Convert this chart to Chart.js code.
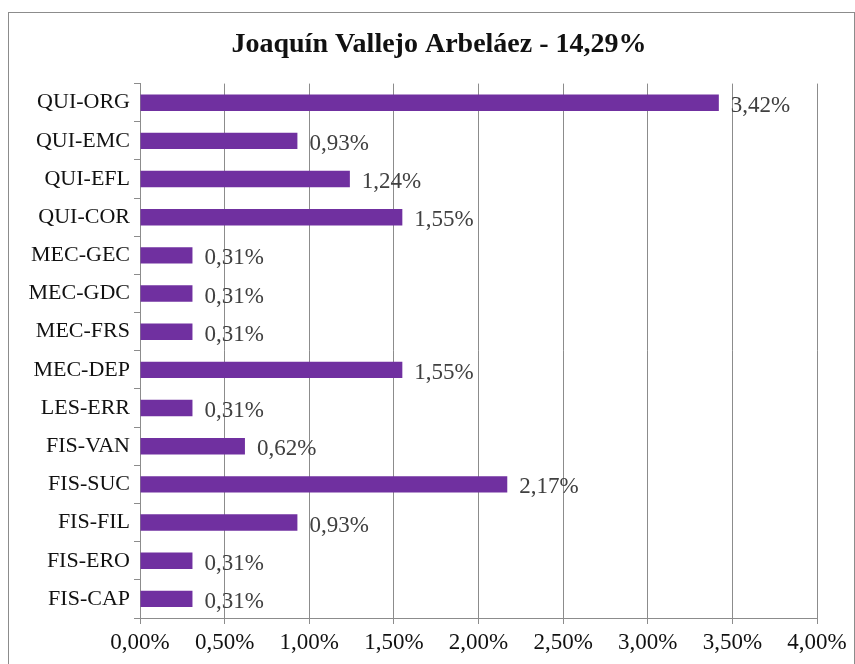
<!DOCTYPE html>
<html>
<head>
<meta charset="utf-8">
<script src="https://cdn.jsdelivr.net/npm/chart.js@4"></script>
<style>
  body { margin: 0; background: #fff; }
  #frame { position: absolute; left: 8px; top: 12px; width: 845px; height: 660px; border: 1px solid #8c8c8c; }
  canvas { position: absolute; left: 0; top: 0; }
</style>
</head>
<body>
<div id="frame"></div>
<canvas id="chart" width="855" height="664"></canvas>
<script>
// Joaquín Vallejo Arbeláez — share per course

const chartTitle = 'Joaquín Vallejo Arbeláez - 14,29%';
const categories = ['QUI-ORG', 'QUI-EMC', 'QUI-EFL', 'QUI-COR', 'MEC-GEC', 'MEC-GDC', 'MEC-FRS',
    'MEC-DEP', 'LES-ERR', 'FIS-VAN', 'FIS-SUC', 'FIS-FIL', 'FIS-ERO', 'FIS-CAP'];
const values = [3.42, 0.93, 1.24, 1.55, 0.31, 0.31, 0.31, 1.55, 0.31, 0.62, 2.17, 0.93, 0.31, 0.31];
const xTicks = [0, 0.5, 1, 1.5, 2, 2.5, 3, 3.5, 4];

const serif = "'Liberation Serif', 'Times New Roman', serif";
const fmt = (v) => v.toFixed(2).replace('.', ',') + '%';

// value labels right of each bar
const valueLabels = {
    id: 'valueLabels',
    afterDatasetsDraw(chart) {
        const ctx = chart.ctx;
        const meta = chart.getDatasetMeta(0);
        ctx.save();
        ctx.font = '23px ' + serif;
        ctx.fillStyle = '#404040';
        ctx.textAlign = 'left';
        ctx.textBaseline = 'middle';
        meta.data.forEach((bar, i) => {
            ctx.fillText(fmt(values[i]), bar.x + 12, bar.y + 3);
        });
        ctx.restore();
    },
};

// title is centred over the whole frame, not only the plot
const titleShift = {
    id: 'titleShift',
    afterLayout(chart) {
        if (chart.titleBlock) chart.titleBlock.left = 61;
    },
};

new Chart(document.getElementById('chart'), {
    type: 'bar',
    data: {
        labels: categories,
        datasets: [{
            data: values,
            backgroundColor: '#7030a0',
            borderWidth: 0,
            categoryPercentage: 1,
            barPercentage: 0.43,
        }],
    },
    options: {
        indexAxis: 'y',
        responsive: false,
        animation: false,
        layout: { padding: { left: 0, right: 38, top: 0, bottom: 0 } },
        plugins: {
            legend: { display: false },
            tooltip: { enabled: false },
            title: {
                display: true,
                text: chartTitle,
                color: '#111',
                font: { family: serif, size: 28, weight: 'bold' },
                padding: { top: 28, bottom: 22 },
            },
        },
        scales: {
            x: {
                min: 0,
                max: 4,
                afterBuildTicks: (axis) => { axis.ticks = xTicks.map(v => ({ value: v })); },
                afterFit: (axis) => { axis.height = 46; },
                ticks: {
                    color: '#111',
                    font: { family: serif, size: 23 },
                    padding: 5,
                    callback: (v) => fmt(v),
                },
                grid: { color: '#8c8c8c', lineWidth: 1, tickLength: 6 },
                border: { color: '#8c8c8c' },
            },
            y: {
                afterFit: (axis) => { axis.width = 140; },
                ticks: {
                    color: '#111',
                    font: { family: serif, size: 22 },
                    padding: 4,
                },
                grid: { offset: true, drawOnChartArea: false, color: '#8c8c8c', tickLength: 6 },
                border: { color: '#8c8c8c' },
            },
        },
    },
    plugins: [valueLabels, titleShift],
});
</script>
</body>
</html>
